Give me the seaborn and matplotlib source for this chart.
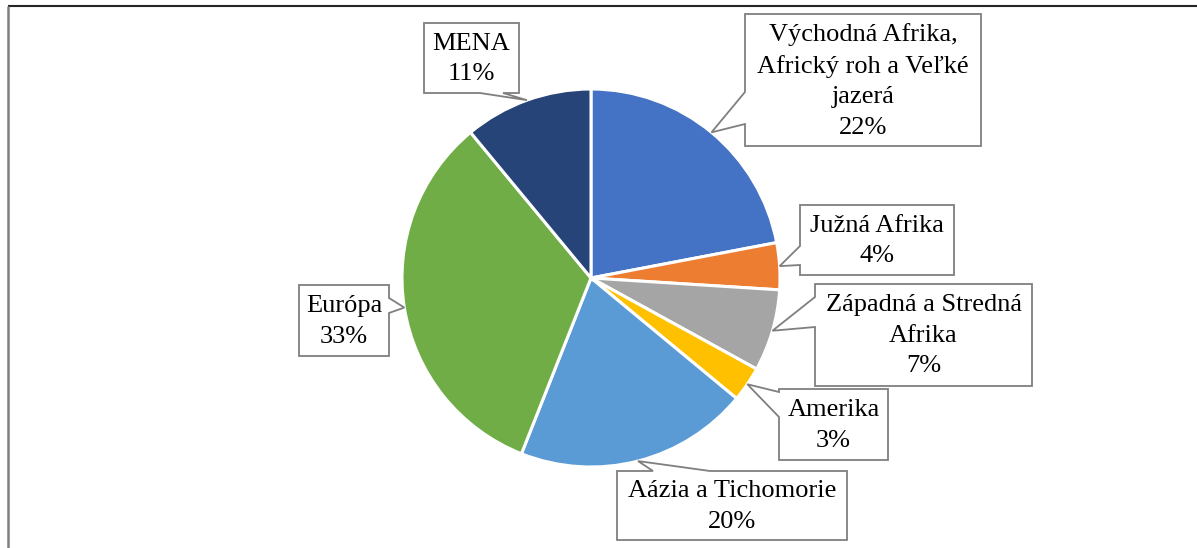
import numpy as np
import matplotlib
matplotlib.use("Agg")
import matplotlib.pyplot as plt
from matplotlib.patches import Polygon
import seaborn as sns

# data
regions = ["Východná Afrika,\nAfrický roh a Veľké\njazerá", "Južná Afrika",
           "Západná a Stredná\nAfrika", "Amerika", "Aázia a Tichomorie",
           "Európa", "MENA"]
shares = [22, 4, 7, 3, 20, 33, 11]
colors = ["#4472C4", "#ED7D31", "#A5A5A5", "#FFC000", "#5B9BD5", "#70AD47", "#264478"]

# callout boxes in pixels: x0, y0, x1, y1, side of the notch, notch start, notch end
callouts = [
    (745, 14, 981, 146, "left", 92, 124),
    (800, 205, 954, 275, "left", 246, 265),
    (815, 284, 1032, 386, "left", 297, 327),
    (779, 389, 888, 460, "left", 392, 417),
    (617, 471, 847, 540, "top", 653, 710),
    (299, 285, 389, 356, "right", 298, 313),
    (424, 23, 519, 93, "bottom", 480, 503),
]

sns.set_style("white")
plt.rcParams["font.family"] = ["Liberation Serif", "DejaVu Serif"]

W, H = 1197, 548
fig = plt.figure(figsize=(W / 100, H / 100), dpi=100)
ax = fig.add_axes([0, 0, 1, 1])

cx, cy, r = 591, 278, 189
wedges, _ = ax.pie(shares, colors=sns.color_palette(colors), startangle=-90,
                   counterclock=True, center=(cx, cy), radius=r,
                   wedgeprops=dict(edgecolor="white", linewidth=2.2))
ax.set_xlim(0, W)
ax.set_ylim(H, 0)
ax.set_aspect("auto")
ax.axis("off")


def callout_shape(x0, y0, x1, y1, side, a, b, tip):
    if side == "top":
        pts = [(x0, y0), (a, y0), tip, (b, y0), (x1, y0), (x1, y1), (x0, y1)]
    elif side == "right":
        pts = [(x0, y0), (x1, y0), (x1, a), tip, (x1, b), (x1, y1), (x0, y1)]
    elif side == "bottom":
        pts = [(x0, y0), (x1, y0), (x1, y1), (b, y1), tip, (a, y1), (x0, y1)]
    else:
        pts = [(x0, y0), (x1, y0), (x1, y1), (x0, y1), (x0, b), tip, (x0, a)]
    return pts


for w, name, val, box in zip(wedges, regions, shares, callouts):
    mid = np.deg2rad((w.theta1 + w.theta2) / 2)
    tip = (cx + r * np.cos(mid), cy + r * np.sin(mid))
    x0, y0, x1, y1, side, a, b = box
    poly = Polygon(callout_shape(x0, y0, x1, y1, side, a, b, tip), closed=True,
                   facecolor="white", edgecolor="#7F7F7F", linewidth=1.3, zorder=3)
    ax.add_patch(poly)
    ax.text((x0 + x1) / 2, (y0 + y1) / 2 + 1, f"{name}\n{val}%", ha="center", va="center",
            fontsize=19, linespacing=1.5, color="black", zorder=4)

# chart frame
ax.plot([8, W], [6, 6], color="#262626", linewidth=1.5, solid_capstyle="butt")
ax.plot([8, 8], [6, H], color="#808080", linewidth=1.8, solid_capstyle="butt")

fig.savefig("out.png", dpi=100)
